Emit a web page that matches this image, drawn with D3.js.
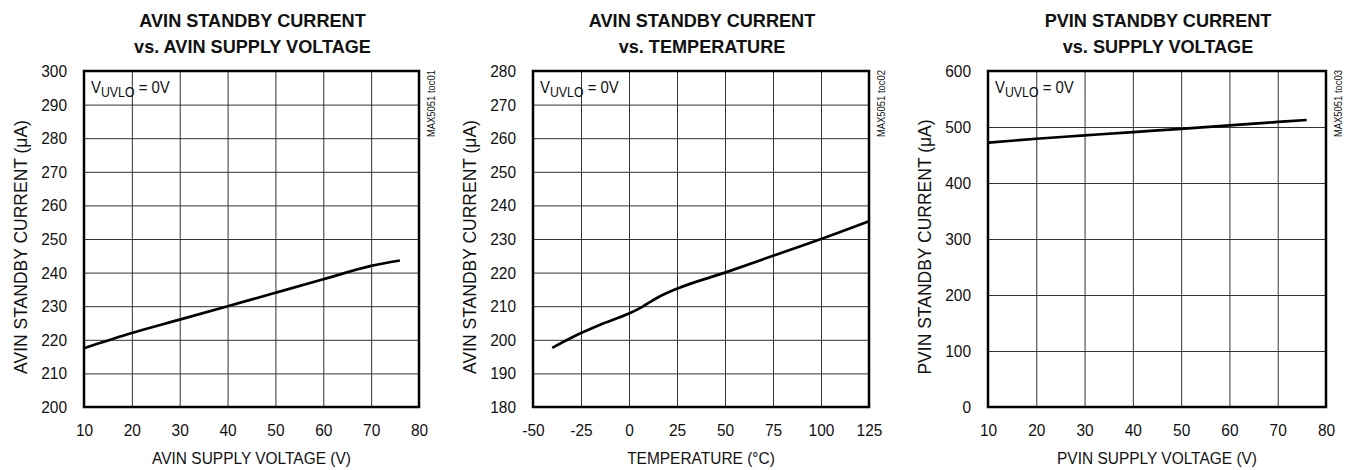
<!DOCTYPE html>
<html><head><meta charset="utf-8">
<script src="https://cdn.jsdelivr.net/npm/d3@7"></script>
<style>
html,body{margin:0;padding:0;background:#fff;}
svg{display:block;font-family:"Liberation Sans",Arial,sans-serif;}
</style></head>
<body><svg id="c" width="1348" height="470"></svg>
<script>
// ---- data ----
const avinVoltageX = [10, 20, 30, 40, 50, 60, 70, 76];
const avinVoltageY = [217.5, 222, 226, 230, 234, 238, 242, 243.6];

const avinTempX = [-40, -25, -15, 0, 5, 15, 25, 50, 75, 100, 125];
const avinTempY = [197.6, 202, 204.5, 207.8, 209.2, 212.6, 215.2, 220, 225, 230, 235.3];

const pvinVoltageX = [10, 20, 30, 40, 50, 60, 70, 76];
const pvinVoltageY = [472, 479, 485, 491, 496.5, 503, 509, 512.5];

const xTicks1 = [10, 20, 30, 40, 50, 60, 70, 80];
const yTicks1 = [200, 210, 220, 230, 240, 250, 260, 270, 280, 290, 300];
const xTicks2 = [-50, -25, 0, 25, 50, 75, 100, 125];
const yTicks2 = [180, 190, 200, 210, 220, 230, 240, 250, 260, 270, 280];
const xTicks3 = [10, 20, 30, 40, 50, 60, 70, 80];
const yTicks3 = [0, 100, 200, 300, 400, 500, 600];

const titles = [
  ["AVIN STANDBY CURRENT", "vs. AVIN SUPPLY VOLTAGE"],
  ["AVIN STANDBY CURRENT", "vs. TEMPERATURE"],
  ["PVIN STANDBY CURRENT", "vs. SUPPLY VOLTAGE"]
];
const xLabels = ["AVIN SUPPLY VOLTAGE (V)", "TEMPERATURE (°C)", "PVIN SUPPLY VOLTAGE (V)"];
const yLabels = ["AVIN STANDBY CURRENT (μA)", "AVIN STANDBY CURRENT (μA)", "PVIN STANDBY CURRENT (μA)"];
const tocLabels = ["MAX5051 toc01", "MAX5051 toc02", "MAX5051 toc03"];

const panels = [
  {x: avinVoltageX, y: avinVoltageY, xt: xTicks1, yt: yTicks1, left: 84, right: 419},
  {x: avinTempX, y: avinTempY, xt: xTicks2, yt: yTicks2, left: 533, right: 869},
  {x: pvinVoltageX, y: pvinVoltageY, xt: xTicks3, yt: yTicks3, left: 988, right: 1326}
];

const svg = d3.select("#c");
const plotTop = 71, plotBottom = 407;
const narrow = 0.91;

panels.forEach((p, i) => {
  const g = svg.append("g");
  const xs = d3.scaleLinear().domain(d3.extent(p.xt)).range([p.left, p.right]);
  const ys = d3.scaleLinear().domain(d3.extent(p.yt)).range([plotBottom, plotTop]);
  const cx = (p.left + p.right) / 2;

  // title
  titles[i].forEach((t, k) => {
    g.append("text").attr("transform", `translate(${cx + 1},${26.5 + k * 26}) scale(0.98,1)`)
      .attr("text-anchor", "middle").attr("font-weight", "bold")
      .attr("font-size", 18.5).attr("fill", "#111").text(t);
  });

  // grid via axes
  const xGrid = d3.axisBottom(xs).tickValues(p.xt).tickSize(-(plotBottom - plotTop)).tickFormat("");
  const yGrid = d3.axisLeft(ys).tickValues(p.yt).tickSize(-(p.right - p.left)).tickFormat("");
  const gx = g.append("g").attr("transform", `translate(0,${plotBottom})`).call(xGrid);
  const gy = g.append("g").attr("transform", `translate(${p.left},0)`).call(yGrid);
  [gx, gy].forEach(a => {
    a.select(".domain").remove();
    a.selectAll("line").attr("stroke", "#333").attr("stroke-width", 1);
  });

  // tick labels via axes
  const fmt = d => String(d);
  const xAx = d3.axisBottom(xs).tickValues(p.xt).tickSize(0).tickPadding(0).tickFormat(fmt);
  const yAx = d3.axisLeft(ys).tickValues(p.yt).tickSize(0).tickPadding(0).tickFormat(fmt);
  const lx = g.append("g").attr("transform", `translate(0,${plotBottom + 17})`).call(xAx);
  const ly = g.append("g").attr("transform", `translate(${p.left - 17},0)`).call(yAx);
  [lx, ly].forEach(a => {
    a.select(".domain").remove();
    a.selectAll("text").attr("font-size", 17).attr("fill", "#111")
      .attr("font-family", '"Liberation Sans",Arial,sans-serif')
      .attr("transform", `scale(${narrow},1)`);
  });
  lx.selectAll("text").attr("dy", "0.71em");

  // frame
  g.append("rect").attr("x", p.left).attr("y", plotTop)
    .attr("width", p.right - p.left).attr("height", plotBottom - plotTop)
    .attr("fill", "none").attr("stroke", "#000").attr("stroke-width", 2.5);

  // curve
  const pts = p.x.map((v, k) => [v, p.y[k]]);
  g.append("path").datum(pts)
    .attr("d", d3.line().x(d => xs(d[0])).y(d => ys(d[1])).curve(d3.curveMonotoneX))
    .attr("fill", "none").attr("stroke", "#000").attr("stroke-width", 2.7);

  // annotation
  const ann = g.append("text").attr("transform", `translate(${p.left + 7},93) scale(0.88,1)`)
    .attr("font-size", 17).attr("fill", "#111");
  ann.append("tspan").text("V");
  ann.append("tspan").attr("dy", 4).attr("font-size", 14).text("UVLO");
  ann.append("tspan").attr("dy", -4).text(" = 0V");

  // x label
  g.append("text").attr("transform", `translate(${cx},464) scale(${narrow},1)`).attr("text-anchor", "middle")
    .attr("font-size", 17).attr("fill", "#111").text(xLabels[i]);

  // y label
  g.append("text").attr("transform", `translate(${p.left - 57},${(plotTop + plotBottom) / 2 + 8}) rotate(-90)`)
    .attr("text-anchor", "middle").attr("font-size", 17.5).attr("fill", "#111").text(yLabels[i]);

  // toc label
  g.append("text").attr("transform", `translate(${p.right + 16},70) rotate(-90) scale(0.9,1)`)
    .attr("text-anchor", "end").attr("font-size", 10.5).attr("fill", "#111").text(tocLabels[i]);
});
</script></body></html>
